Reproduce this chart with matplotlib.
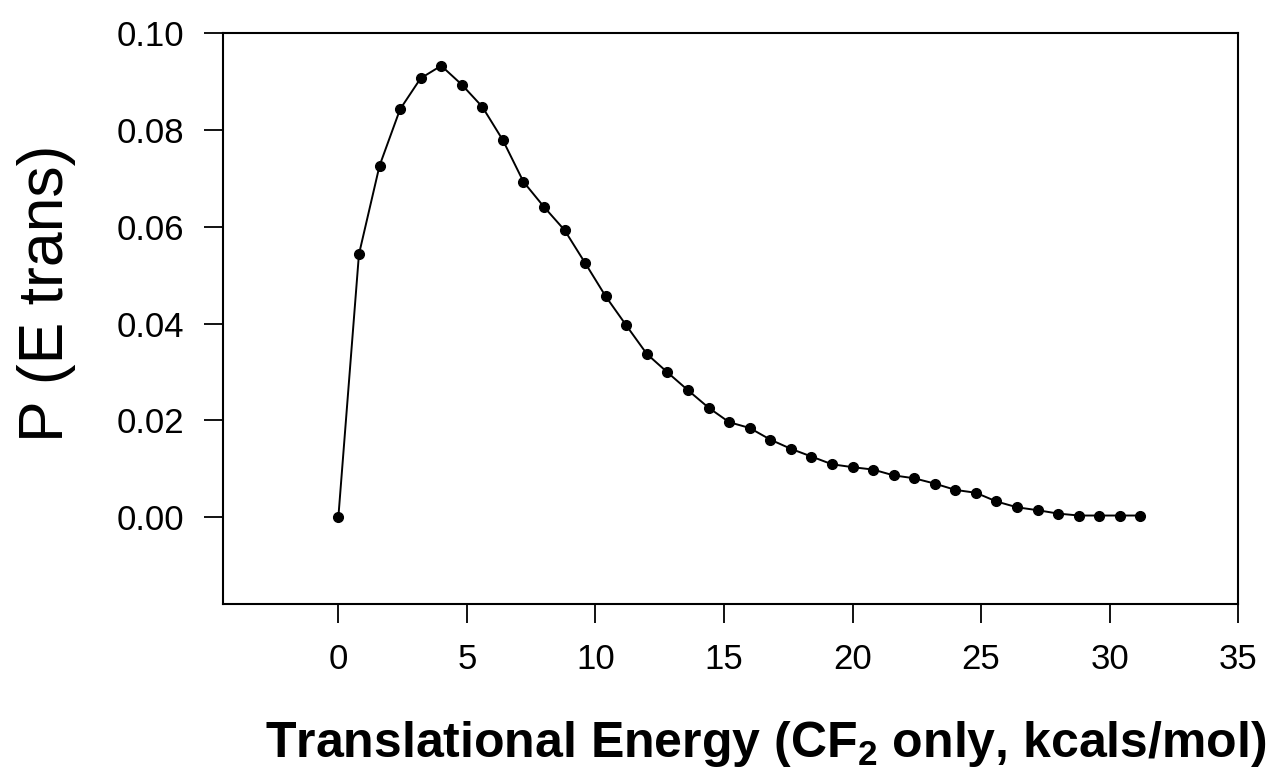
#!/usr/bin/env python3

import numpy as np
import matplotlib
matplotlib.use("Agg")
import matplotlib.pyplot as plt
from matplotlib import font_manager
from matplotlib.ticker import FormatStrFormatter

# the x title in the original is a narrow bold face
names = set(f.name for f in font_manager.fontManager.ttflist)
if "Liberation Sans Narrow" in names:
  title_font, title_size = "Liberation Sans Narrow", 45
else:
  title_font, title_size = "Liberation Sans", 36

plt.rcParams['font.family'] = ['Liberation Sans', 'DejaVu Sans']
plt.rcParams['mathtext.fontset'] = 'custom'
plt.rcParams['mathtext.rm'] = title_font + ':bold'
plt.rcParams['mathtext.default'] = 'rm'

# translational energy (kcal/mol), spacing 0.8
energy = [0.0, 0.8, 1.6, 2.4, 3.2, 4.0, 4.8, 5.6, 6.4, 7.2,
          8.0, 8.8, 9.6, 10.4, 11.2, 12.0, 12.8, 13.6, 14.4, 15.2,
          16.0, 16.8, 17.6, 18.4, 19.2, 20.0, 20.8, 21.6, 22.4, 23.2,
          24.0, 24.8, 25.6, 26.4, 27.2, 28.0, 28.8, 29.6, 30.4, 31.2]
# P(E trans)
prob = [0.0, 0.0543, 0.0726, 0.0843, 0.0907, 0.0933, 0.0894, 0.0848, 0.0779, 0.0693,
        0.0641, 0.0593, 0.0525, 0.0456, 0.0396, 0.0337, 0.0299, 0.0262, 0.0226, 0.0196,
        0.0184, 0.0160, 0.0141, 0.0125, 0.0109, 0.0103, 0.0098, 0.0086, 0.0080, 0.0069,
        0.0056, 0.0050, 0.0032, 0.0020, 0.0014, 0.0007, 0.0003, 0.0003, 0.0003, 0.0003]

xticks = [0, 5, 10, 15, 20, 25, 30, 35]
yticks = [0.00, 0.02, 0.04, 0.06, 0.08, 0.10]

fig = plt.figure(figsize=(12.82, 7.68), dpi=100)
ax = fig.add_axes([0.1737, 0.2135, 0.7921, 0.7431])

ax.plot(energy, prob, color="black", lw=1.4, marker="o", ms=7, mfc="black", mec="black")

ax.set_xlim(-4.5, 35)
ax.set_ylim(-0.018, 0.10)
ax.set_xticks(xticks)
ax.set_yticks(yticks)
ax.yaxis.set_major_formatter(FormatStrFormatter("%.2f"))

for s in ax.spines.values():
  s.set_linewidth(1.5)
ax.tick_params(direction="out", length=14, width=1.3, labelsize=25, pad=14, colors="black")

fig.text(0.036, 0.618, "P (E trans)", rotation=90, ha="center", va="center", fontsize=45)
fig.text(0.5975, 0.0143, "Translational Energy (CF$_2$ only, kcals/mol)",
         ha="center", va="baseline", fontsize=title_size, fontweight="bold",
         family=[title_font, "Liberation Sans", "DejaVu Sans"])

fig.savefig("out.png", dpi=100, facecolor="white")
